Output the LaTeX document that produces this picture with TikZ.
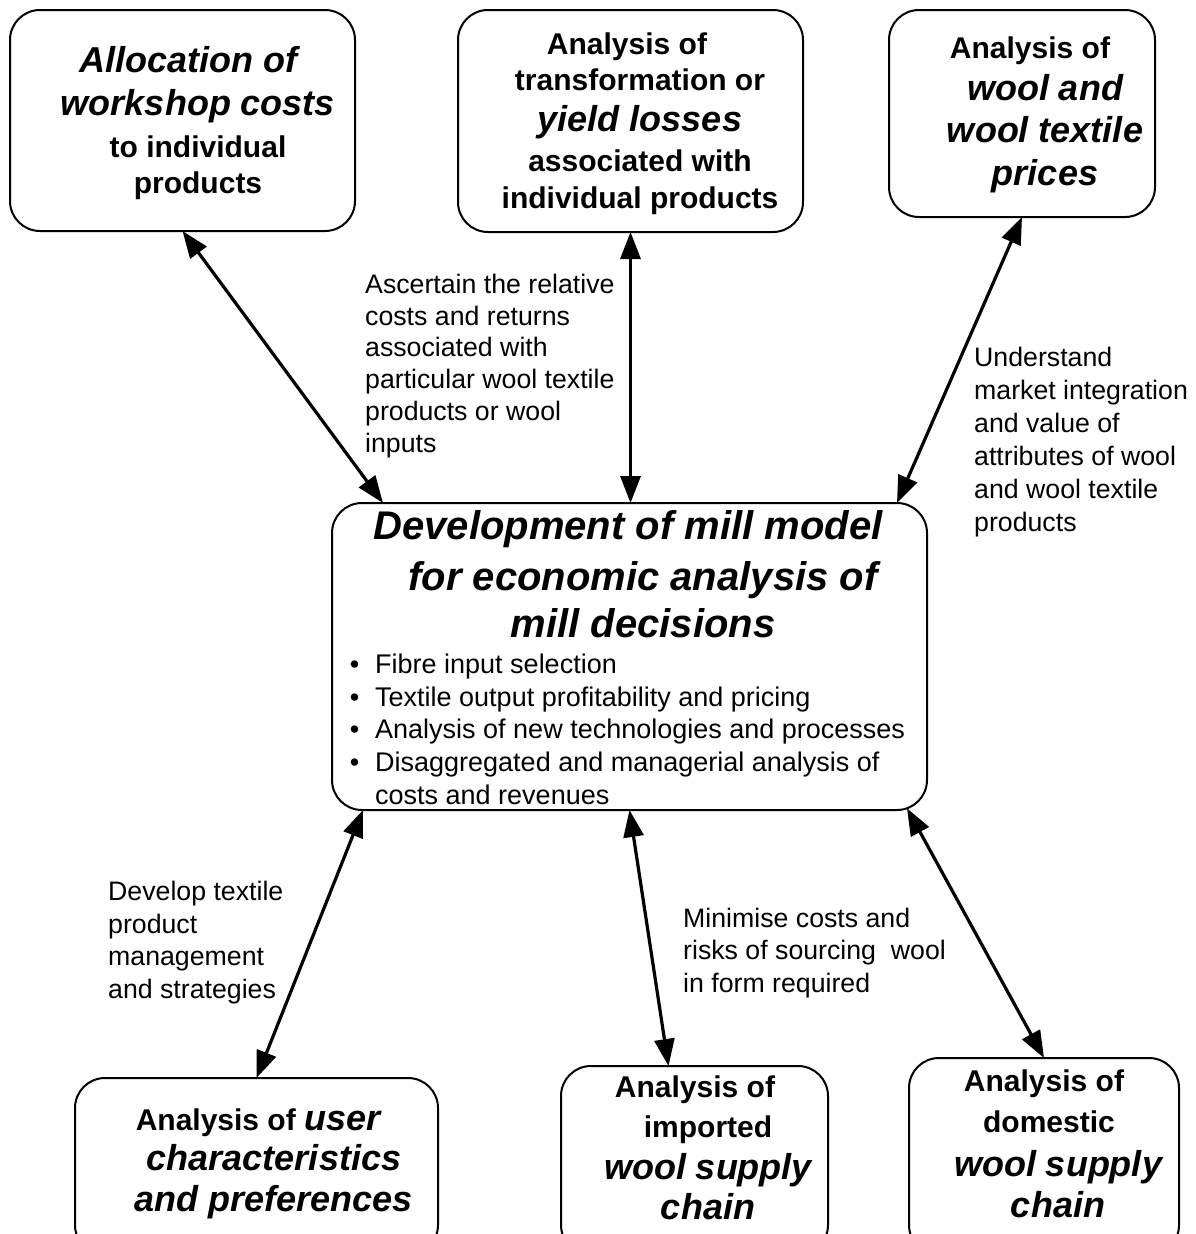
\documentclass[tikz,border=0pt]{standalone}
\usepackage{fontspec}
\setmainfont{Liberation Sans}
\usetikzlibrary{arrows.meta}
\newcommand{\BI}{\fontsize{36}{36}\selectfont\itshape}
\newcommand{\blt}{\makebox[0pt][r]{•\hspace{16pt}}}
\tikzset{
  box/.style={draw, line width=2pt, rounded corners=30pt, inner sep=0pt, outer sep=0pt},
  btxt/.style={align=center, inner sep=0pt, font=\fontsize{30}{36}\selectfont\bfseries},
  ttl/.style={align=center, inner sep=0pt, font=\fontsize{40}{49}\selectfont\bfseries\itshape},
  lbl/.style={align=left, inner sep=0pt, anchor=north west, font=\fontsize{26.7}{32.5}\selectfont},
  arr/.style={line width=3.2pt, {Triangle[length=27pt,width=20pt]}-{Triangle[length=27pt,width=20pt]}}
}
\begin{document}
\begin{tikzpicture}[x=1pt,y=-1pt]
\useasboundingbox (0,0) rectangle (1195,1234);
\clip (0,0) rectangle (1195,1234);

% boxes
\node[box, minimum width=345pt, minimum height=221pt] (A) at (182.5,120.5) {};
\node[box, minimum width=345pt, minimum height=222pt] (B) at (630.5,121) {};
\node[box, minimum width=266pt, minimum height=207pt] (C) at (1022,113.5) {};
\node[box, minimum width=595pt, minimum height=307pt] (M) at (629.5,656.5) {};
\node[box, minimum width=363pt, minimum height=177pt] (D) at (256.5,1166.5) {};
\node[box, minimum width=267pt, minimum height=189pt] (E) at (694.5,1160.5) {};
\node[box, minimum width=270pt, minimum height=197pt] (F) at (1044,1156.5) {};

% box texts
\node[btxt] (At) at (198,122.7) {{\BI Allocation of}\kern20pt\\[7pt]{\BI workshop costs}\\[6pt]to individual\\products};
\node[btxt] (Bt) at (640,123.4) {Analysis of\kern26pt\\transformation or\\[5pt]{\BI yield losses}\\[4pt]associated with\\[1pt]individual products};
\node[btxt] (Ct) at (1045,114.5) {Analysis of\kern30pt\\[6pt]{\BI wool and}\\[6pt]{\BI wool textile}\\[7pt]{\BI prices}};
\node[ttl] (Mt) at (643,574.6) {Development of mill model\kern30pt\\[2pt]for economic analysis of\\[-2pt]mill decisions};
\node[align=left, inner sep=0pt, anchor=north west, font=\fontsize{27}{32.75}\selectfont] (Ml) at (375,653.6)
  {\blt Fibre input selection\\\blt Textile output profitability and pricing\\\blt Analysis of new technologies and processes\\\blt Disaggregated and managerial analysis of\\costs and revenues};
\node[btxt] (Dt) at (274,1163.5) {Analysis of {\BI user}\kern32pt\\[4pt]{\BI characteristics}\\[5pt]{\BI and preferences}};
\node[btxt] (Et) at (708,1148.2) {Analysis of\kern26pt\\[4pt]imported\\[6pt]{\BI wool supply}\\[4pt]{\BI chain}};
\node[btxt] (Ft) at (1058,1144.2) {Analysis of\kern28pt\\[5pt]domestic\kern18pt\\[8pt]{\BI wool supply}\\[5pt]{\BI chain}};

% connector labels
\node[lbl, font=\fontsize{26.7}{31.8}\selectfont] (L1) at (365,273.7) {Ascertain the relative\\costs and returns\\associated with\\particular wool textile\\products or wool\\inputs};
\node[lbl, font=\fontsize{26.7}{33}\selectfont] (L2) at (974,346.8) {Understand\\market integration\\and value of\\attributes of wool\\and wool textile\\products};
\node[lbl, font=\fontsize{26.7}{32.7}\selectfont] (L3) at (108,880.8) {Develop textile\\product\\management\\and strategies};
\node[lbl] (L4) at (683,907.8) {Minimise costs and\\risks of sourcing~ wool\\in form required};

% connectors
\draw[arr] (A.south) -- ([xshift=51pt]M.north west);
\draw[arr] (B.south) -- (B.south |- M.north);
\draw[arr] (C.south) -- ([xshift=-30pt]M.north east);
\draw[arr] ([xshift=31pt]M.south west) -- (D.north);
\draw[arr] (M.south) -- ([xshift=-26pt]E.north);
\draw[arr] ([xshift=-20pt,yshift=1.7pt]M.south east) -- (F.north);
\end{tikzpicture}
\end{document}
